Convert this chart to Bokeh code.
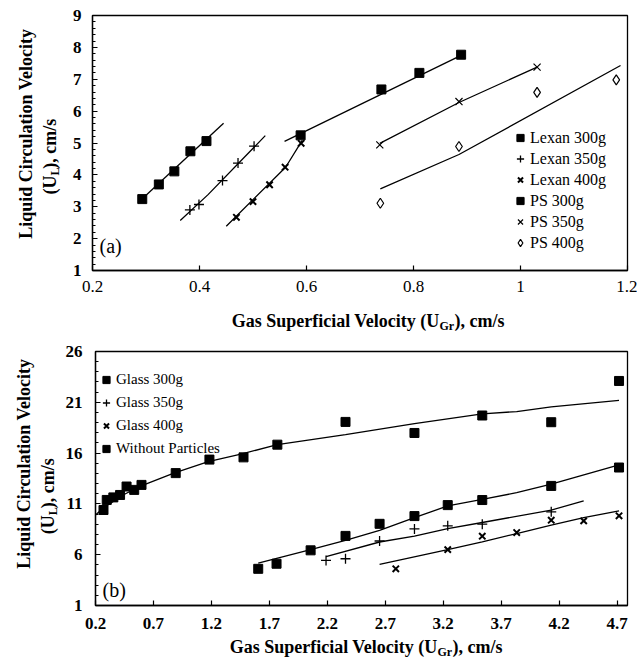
import math
from bokeh.plotting import figure
from bokeh.models import Range1d, FixedTicker, Label, Legend, LegendItem
from bokeh.layouts import column, row
from bokeh.core.properties import value
from bokeh.embed import file_html
from bokeh.resources import INLINE

FONT = "Liberation Serif"

# ---------------- panel (a) data ----------------
a_xticks = [0.2, 0.4, 0.6, 0.8, 1.0, 1.2]
a_xtick_labels = ["0.2", "0.4", "0.6", "0.8", "1", "1.2"]
a_yticks = [1, 2, 3, 4, 5, 6, 7, 8, 9]

lexan300_x = [0.293, 0.324, 0.353, 0.383, 0.413]
lexan300_y = [3.24, 3.70, 4.11, 4.74, 5.06]
lexan300_fit_x = [0.286, 0.445]
lexan300_fit_y = [3.14, 5.62]

lexan350_x = [0.382, 0.399, 0.443, 0.472, 0.502]
lexan350_y = [2.90, 3.07, 3.82, 4.37, 4.90]
lexan350_fit_x = [0.364, 0.416, 0.523]
lexan350_fit_y = [2.57, 3.38, 5.23]

lexan400_x = [0.469, 0.500, 0.531, 0.560, 0.590]
lexan400_y = [2.67, 3.16, 3.69, 4.24, 4.99]
lexan400_fit_x = [0.450, 0.561, 0.592]
lexan400_fit_y = [2.39, 4.24, 5.08]

ps300_x = [0.589, 0.740, 0.811, 0.889]
ps300_y = [5.24, 6.68, 7.20, 7.77]
ps300_fit_x = [0.559, 0.889]
ps300_fit_y = [5.05, 7.75]

ps350_x = [0.737, 0.885, 1.031]
ps350_y = [4.94, 6.30, 7.38]
ps350_fit_x = [0.737, 0.885, 1.031]
ps350_fit_y = [4.99, 6.27, 7.38]

ps400_x = [0.738, 0.885, 1.031, 1.179]
ps400_y = [3.11, 4.89, 6.59, 6.98]
ps400_fit_x = [0.738, 0.885, 1.187]
ps400_fit_y = [3.56, 4.64, 7.43]

# ---------------- panel (b) data ----------------
b_xticks = [0.2, 0.7, 1.2, 1.7, 2.2, 2.7, 3.2, 3.7, 4.2, 4.7]
b_yticks = [1, 6, 11, 16, 21, 26]

without_x = [0.269, 0.297, 0.354, 0.412, 0.468, 0.534, 0.597, 0.892, 1.183, 1.477,
             1.769, 2.357, 2.952, 3.537, 4.132, 4.717]
without_y = [10.4, 11.39, 11.64, 11.88, 12.71, 12.38, 12.87, 14.03, 15.36, 15.58,
             16.83, 19.07, 17.98, 19.70, 19.04, 23.10]
without_fit_x = [0.2, 0.263, 0.438, 0.578, 0.876, 1.173, 1.464, 1.769, 2.357, 2.952,
                 3.537, 3.834, 4.132, 4.717]
without_fit_y = [9.9, 10.55, 11.88, 12.7, 14.02, 15.17, 15.93, 16.83, 17.82, 18.9,
                 19.86, 20.09, 20.55, 21.18]

glass300_x = [1.604, 1.762, 2.056, 2.357, 2.651, 2.952, 3.239, 3.537, 4.132, 4.717]
glass300_y = [4.61, 5.11, 6.43, 7.85, 9.04, 9.80, 10.88, 11.38, 12.77, 14.58]
glass300_fit_x = [1.604, 2.056, 2.357, 2.651, 2.952, 3.239, 3.537, 3.834, 4.132, 4.717]
glass300_fit_y = [5.17, 6.5, 7.4, 8.4, 9.65, 10.8, 11.45, 12.1, 12.95, 14.85]

glass350_x = [2.189, 2.357, 2.651, 2.952, 3.239, 3.537, 4.132]
glass350_y = [5.44, 5.60, 7.35, 8.54, 8.84, 9.00, 10.22]
glass350_fit_x = [2.189, 2.651, 2.952, 3.239, 3.537, 4.132, 4.412]
glass350_fit_y = [5.82, 7.25, 7.82, 8.57, 9.17, 10.39, 11.31]

glass400_x = [2.791, 3.239, 3.537, 3.834, 4.132, 4.412, 4.717]
glass400_y = [4.61, 6.50, 7.82, 8.18, 9.40, 9.33, 9.83]
glass400_fit_x = [2.651, 3.239, 3.537, 3.834, 4.132, 4.412, 4.717]
glass400_fit_y = [5.04, 6.50, 7.26, 8.08, 8.90, 9.66, 10.32]

# axis title texts
x_title_parts = ["Gas Superficial Velocity (U", "Gr", "), cm/s"]
y_title_line1 = "Liquid Circulation Velocity"
y_title_parts = ["(U", "L", "), cm/s"]


def styled(width, height, xr, yr, bl, br, bt, bb):
    p = figure(width=width, height=height, x_range=Range1d(*xr), y_range=Range1d(*yr),
               output_backend="svg", toolbar_location=None,
               min_border_left=bl, min_border_right=br,
               min_border_top=bt, min_border_bottom=bb)
    p.grid.visible = False
    p.outline_line_color = "black"
    p.outline_line_width = 1.3
    for ax in p.axis:
        ax.axis_line_width = 1.3
        ax.major_tick_in = 5
        ax.major_tick_out = 0
        ax.major_tick_line_width = 1.2
        ax.minor_tick_out = 0
        ax.major_label_text_font = FONT
        ax.major_label_text_font_size = "17px"
        ax.major_label_text_color = "black"
    p.xaxis.minor_tick_in = 0
    p.yaxis.minor_tick_in = 3
    return p


def text_panel(width, height):
    # a blank canvas whose data units are pixels (y grows downward)
    t = figure(width=width, height=height, x_range=Range1d(0, width),
               y_range=Range1d(height, 0), output_backend="svg",
               toolbar_location=None, x_axis_location=None, y_axis_location=None,
               min_border_left=0, min_border_right=0, min_border_top=0,
               min_border_bottom=0)
    t.grid.visible = False
    t.outline_line_color = None
    return t


def txt(t, x, y, s, size, angle=0.0, align="left", baseline="middle"):
    t.text(x=[x], y=[y], text=[s], angle=angle, text_align=align,
           text_baseline=baseline, text_font=value(FONT),
           text_font_size=value(f"{size}px"), text_font_style="bold",
           text_color="black")


def x_title(t, cx, cy):
    w1, wsub, w3 = 209, 15, 50
    left = cx - (w1 + wsub + w3) / 2
    txt(t, left + w1, cy, x_title_parts[0], 18, align="right")
    txt(t, left + w1, cy + 5, x_title_parts[1], 12)
    txt(t, left + w1 + wsub, cy, x_title_parts[2], 18)


def y_title(t, c1x, c1y, c2x, c2y):
    a = math.pi / 2
    txt(t, c1x, c1y, y_title_line1, 18, angle=a, align="center")
    v1, vsub, v3 = 19, 8, 50
    start = c2y + (v1 + vsub + v3) / 2
    txt(t, c2x, start - v1, y_title_parts[0], 18, angle=a, align="right")
    txt(t, c2x + 5, start - v1, y_title_parts[1], 12, angle=a, align="left")
    txt(t, c2x, start - v1 - vsub, y_title_parts[2], 18, angle=a, align="left")


def make_legend(p, items, loc, row_h, font_size):
    lg = Legend(items=[LegendItem(label=l, renderers=[r]) for l, r in items],
                location=loc, orientation="vertical",
                background_fill_alpha=0, border_line_alpha=0,
                padding=0, margin=0, spacing=0,
                glyph_width=18, glyph_height=row_h, label_height=row_h,
                label_standoff=1, label_text_font=FONT,
                label_text_font_size=f"{font_size}px", label_text_color="black")
    p.add_layout(lg)


LW = 1.3
TW = 62  # width of the y-title strip

# ---------------- panel (a) ----------------
pa = styled(637 - TW, 302, (0.2, 1.2), (1, 9), 92 - TW, 10, 15, 32)
pa.xaxis.ticker = FixedTicker(ticks=a_xticks)
pa.xaxis.major_label_overrides = dict(zip(a_xticks, a_xtick_labels))
pa.xaxis.major_label_text_font_style = "normal"
pa.xaxis.major_label_standoff = 10
pa.yaxis.ticker = FixedTicker(ticks=a_yticks, minor_ticks=[1 + 0.2 * i for i in range(41)])
pa.yaxis.major_label_text_font_style = "bold"
pa.yaxis.major_label_standoff = 11

for fx, fy in [(lexan300_fit_x, lexan300_fit_y), (lexan350_fit_x, lexan350_fit_y),
               (lexan400_fit_x, lexan400_fit_y), (ps300_fit_x, ps300_fit_y),
               (ps350_fit_x, ps350_fit_y), (ps400_fit_x, ps400_fit_y)]:
    pa.line(fx, fy, line_color="black", line_width=LW)

r_l300 = pa.scatter(lexan300_x, lexan300_y, marker="square", size=9,
                    fill_color="black", line_color="black")
r_l350 = pa.scatter(lexan350_x, lexan350_y, marker="cross", size=10,
                    line_color="black", line_width=1.3)
r_l400 = pa.scatter(lexan400_x, lexan400_y, marker="x", size=9,
                    line_color="black", line_width=2)
r_p300 = pa.scatter(ps300_x, ps300_y, marker="square", size=9,
                    fill_color="black", line_color="black")
r_p350 = pa.scatter(ps350_x, ps350_y, marker="x", size=10,
                    line_color="black", line_width=1.2)
r_p400 = pa.scatter(ps400_x, ps400_y, marker="diamond", size=10,
                    fill_color="white", line_color="black", line_width=1.2)

make_legend(pa, [("Lexan 300g", r_l300), ("Lexan 350g", r_l350), ("Lexan 400g", r_l400),
                 ("PS 300g", r_p300), ("PS 350g", r_p350), ("PS 400g", r_p400)],
            (419, 17), 21, 16)
pa.add_layout(Label(x=7, y=25, x_units="screen", y_units="screen", text="(a)",
                    text_font=FONT, text_font_size="20px", text_color="black",
                    text_baseline="middle"))

yta = text_panel(TW, 302)
y_title(yta, 25, 140, 49, 170)
xta = text_panel(637, 40)
x_title(xta, 367, 18)

# ---------------- panel (b) ----------------
pb = styled(637 - TW, 294, (0.2, 4.79), (1, 26), 92 - TW, 10, 9, 31)
pb.xaxis.ticker = FixedTicker(ticks=b_xticks)
pb.xaxis.major_label_text_font_style = "bold"
pb.xaxis.major_label_standoff = 12
pb.yaxis.ticker = FixedTicker(ticks=b_yticks, minor_ticks=list(range(1, 27)))
pb.yaxis.major_label_text_font_style = "bold"
pb.yaxis.major_label_standoff = 13

for fx, fy in [(without_fit_x, without_fit_y), (glass300_fit_x, glass300_fit_y),
               (glass350_fit_x, glass350_fit_y), (glass400_fit_x, glass400_fit_y)]:
    pb.line(fx, fy, line_color="black", line_width=LW)

r_g300 = pb.scatter(glass300_x, glass300_y, marker="square", size=9,
                    fill_color="black", line_color="black")
r_g350 = pb.scatter(glass350_x, glass350_y, marker="cross", size=10,
                    line_color="black", line_width=1.3)
r_g400 = pb.scatter(glass400_x, glass400_y, marker="x", size=9,
                    line_color="black", line_width=2)
r_wo = pb.scatter(without_x, without_y, marker="square", size=9,
                  fill_color="black", line_color="black")

make_legend(pb, [("Glass 300g", r_g300), ("Glass 350g", r_g350), ("Glass 400g", r_g400),
                 ("Without Particles", r_wo)], (2, 145), 23, 15)
pb.add_layout(Label(x=7, y=16, x_units="screen", y_units="screen", text="(b)",
                    text_font=FONT, text_font_size="20px", text_color="black",
                    text_baseline="middle"))

ytb = text_panel(TW, 294)
y_title(ytb, 23, 130, 47, 170)
xtb = text_panel(637, 28)
x_title(xtb, 365, 10)

layout = column(row(yta, pa, spacing=0), xta, row(ytb, pb, spacing=0), xtb, spacing=0)
open("out.html", "w").write(file_html(layout, INLINE))
